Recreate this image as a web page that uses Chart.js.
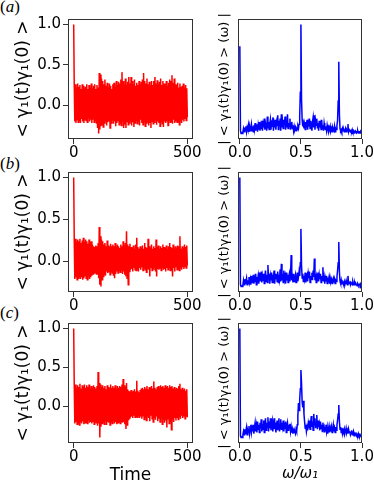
<!DOCTYPE html>
<html><head><meta charset="utf-8">
<script src="https://cdn.jsdelivr.net/npm/chart.js@4.4.0/dist/chart.umd.min.js"></script>
<style>
html,body{margin:0;padding:0;background:#fff;overflow:hidden;width:374px;height:483px;}
#wrap{position:relative;width:374px;height:483px;overflow:hidden;}
canvas{position:absolute;}
.pl{position:absolute;left:0;font-family:"Liberation Serif",serif;font-size:17px;line-height:17px;color:#000;white-space:nowrap;}
.pl i{font-style:italic;}
</style></head><body><div id="wrap">
<div class="pl" style="top:-2px">(<i>a</i>)</div>
<div class="pl" style="top:155px">(<i>b</i>)</div>
<div class="pl" style="top:304px">(<i>c</i>)</div>
</div>
<script>
// ---- tick values / labels ----
const timeTicks = [0, 500];
const timeTickLabels = ['0', '500'];
const corrTicks = [0, 0.5, 1.0];
const corrTickLabels = ['0.0', '0.5', '1.0'];
const freqTicks = [0, 0.5, 1.0];
const freqTickLabels = ['0.0', '0.5', '1.0'];
const timeTitle = 'Time';
const freqTitle = 'ω/ω₁';
const corrYLabel = '< γ₁(t)γ₁(0) >';
const specYLabel = '| < γ₁(t)γ₁(0) > (ω) |';
const TIME_STEP = 2.5;    // time units between samples
const FREQ_STEP = 0.005;  // ω/ω1 between samples

// ---- series: autocorrelation (red) ----
const corrA = [1.0,
0.24,-0.2,0.26,-0.22,0.22,-0.18,0.27,-0.21,0.23,-0.19,
0.25,-0.22,0.2,-0.17,0.26,-0.2,0.24,-0.22,0.21,-0.18,
0.23,-0.19,0.26,-0.21,0.2,-0.16,0.25,-0.2,0.22,-0.18,
0.27,-0.22,0.21,-0.17,0.24,-0.21,0.26,-0.19,0.2,-0.22,
0.25,-0.28,0.22,-0.35,0.4,-0.3,0.38,-0.26,0.33,-0.24,
0.3,-0.27,0.26,-0.22,0.32,-0.2,0.24,-0.25,0.28,-0.21,
0.22,-0.2,0.27,-0.28,0.24,-0.22,0.2,-0.18,0.26,-0.23,
0.28,-0.2,0.23,-0.26,0.3,-0.22,0.25,-0.19,0.29,-0.24,
0.27,-0.22,0.32,-0.25,0.41,-0.2,0.3,-0.28,0.26,-0.24,
0.33,-0.28,0.25,-0.2,0.29,-0.24,0.35,-0.22,0.27,-0.2,
0.35,-0.25,0.3,-0.21,0.26,-0.27,0.32,-0.22,0.24,-0.19,
0.28,-0.23,0.25,-0.2,0.3,-0.25,0.26,-0.18,0.29,-0.22,
0.32,-0.24,0.4,-0.2,0.3,-0.26,0.27,-0.22,0.33,-0.21,
0.26,-0.25,0.29,-0.22,0.24,-0.28,0.3,-0.2,0.25,-0.23,
0.3,-0.21,0.35,-0.19,0.27,-0.24,0.31,-0.2,0.26,-0.22,
0.29,-0.26,0.33,-0.2,0.25,-0.23,0.3,-0.27,0.27,-0.2,
0.26,-0.22,0.3,-0.2,0.24,-0.25,0.28,-0.19,0.32,-0.21,
0.3,-0.2,0.37,-0.23,0.28,-0.18,0.33,-0.22,0.26,-0.2,
0.25,-0.21,0.28,-0.2,0.22,-0.24,0.27,-0.19,0.23,-0.22,
0.24,-0.18,0.27,-0.2,0.22,-0.16,0.25,-0.19,0.21,-0.15];

const corrB = [1.0,
0.25,-0.21,0.27,-0.19,0.23,-0.22,0.26,-0.2,0.24,-0.18,
0.27,-0.21,0.22,-0.19,0.25,-0.22,0.28,-0.2,0.23,-0.17,
0.26,-0.2,0.24,-0.22,0.21,-0.18,0.26,-0.21,0.23,-0.19,
0.24,-0.17,0.2,-0.15,0.18,-0.14,0.17,-0.13,0.19,-0.15,
0.18,-0.16,0.22,-0.2,0.41,-0.28,0.3,-0.3,0.26,-0.22,
0.24,-0.18,0.2,-0.15,0.22,-0.17,0.18,-0.12,0.25,-0.14,
0.19,-0.13,0.17,-0.16,0.21,-0.12,0.18,-0.14,0.2,-0.17,
0.18,-0.2,0.22,-0.15,0.17,-0.12,0.2,-0.14,0.18,-0.11,
0.16,-0.13,0.2,-0.1,0.18,-0.15,0.24,-0.12,0.19,-0.16,
0.22,-0.18,0.36,-0.2,0.2,-0.28,0.18,-0.12,0.21,-0.1,
0.17,-0.09,0.16,-0.12,0.19,-0.08,0.15,-0.1,0.2,-0.11,
0.28,-0.09,0.17,-0.12,0.15,-0.08,0.18,-0.1,0.16,-0.07,
0.19,-0.11,0.15,-0.08,0.22,-0.1,0.17,-0.13,0.16,-0.09,
0.27,-0.1,0.18,-0.18,0.16,-0.08,0.2,-0.11,0.15,-0.09,
0.18,-0.07,0.16,-0.12,0.26,-0.18,0.17,-0.09,0.19,-0.1,
0.15,-0.08,0.18,-0.11,0.16,-0.07,0.2,-0.1,0.17,-0.09,
0.16,-0.12,0.19,-0.08,0.15,-0.1,0.18,-0.07,0.22,-0.11,
0.17,-0.09,0.16,-0.18,0.2,-0.08,0.15,-0.12,0.18,-0.07,
0.16,-0.1,0.19,-0.09,0.18,-0.11,0.3,-0.08,0.15,-0.1,
0.18,-0.07,0.16,-0.09,0.2,-0.06,0.17,-0.08,0.19,-0.05];

const corrC = [1.0,
0.26,-0.22,0.28,-0.2,0.24,-0.23,0.27,-0.21,0.25,-0.24,
0.29,-0.2,0.23,-0.22,0.27,-0.19,0.25,-0.23,0.28,-0.21,
0.24,-0.2,0.27,-0.22,0.25,-0.18,0.28,-0.21,0.23,-0.2,
0.26,-0.22,0.24,-0.19,0.27,-0.23,0.25,-0.2,0.23,-0.21,
0.26,-0.25,0.44,-0.22,0.3,-0.4,0.28,-0.26,0.25,-0.22,
0.27,-0.2,0.24,-0.23,0.26,-0.19,0.22,-0.24,0.27,-0.2,
0.25,-0.21,0.23,-0.24,0.28,-0.2,0.24,-0.22,0.26,-0.19,
0.24,-0.22,0.27,-0.2,0.23,-0.23,0.26,-0.21,0.24,-0.2,
0.26,-0.22,0.25,-0.19,0.28,-0.21,0.35,-0.2,0.27,-0.23,
0.25,-0.29,0.3,-0.24,0.22,-0.17,0.2,-0.15,0.19,-0.14,
0.21,-0.13,0.18,-0.15,0.2,-0.12,0.22,-0.14,0.19,-0.13,
0.33,-0.14,0.2,-0.12,0.18,-0.15,0.21,-0.13,0.23,-0.16,
0.24,-0.12,0.22,-0.17,0.25,-0.14,0.23,-0.18,0.26,-0.13,
0.22,-0.15,0.25,-0.19,0.24,-0.12,0.26,-0.16,0.23,-0.2,
0.32,-0.14,0.24,-0.17,0.22,-0.13,0.25,-0.19,0.26,-0.16,
0.24,-0.2,0.27,-0.15,0.25,-0.23,0.26,-0.17,0.24,-0.21,
0.27,-0.18,0.25,-0.27,0.26,-0.16,0.24,-0.22,0.27,-0.19,
0.25,-0.3,0.26,-0.17,0.23,-0.2,0.25,-0.15,0.22,-0.18,
0.24,-0.14,0.23,-0.17,0.26,-0.13,0.29,-0.16,0.22,-0.12,
0.24,-0.15,0.21,-0.13,0.23,-0.16,0.2,-0.12,0.22,-0.14];

// ---- series: spectra (blue) ----
const specA = [0.8,
0.03,0.005,0.01,0.004,0.02,0.05,0.02,0.06,0.03,0.07,
0.02,0.06,0.04,0.08,0.02,0.07,0.03,0.05,0.09,0.03,
0.07,0.02,0.08,0.04,0.1,0.03,0.06,0.09,0.02,0.08,
0.04,0.11,0.03,0.08,0.05,0.12,0.03,0.09,0.06,0.14,
0.04,0.1,0.07,0.03,0.16,0.05,0.11,0.04,0.09,0.13,
0.04,0.12,0.07,0.15,0.03,0.1,0.06,0.13,0.04,0.11,
0.08,0.17,0.04,0.12,0.07,0.14,0.03,0.18,0.06,0.11,
0.05,0.13,0.08,0.16,0.04,0.12,0.06,0.18,0.05,0.1,
0.07,0.14,0.04,0.09,0.11,0.05,0.08,0.03,0.07,0.04,
0.06,0.03,0.05,0.04,0.07,0.05,0.09,0.16,0.38,1.0,
0.32,0.13,0.07,0.1,0.05,0.09,0.04,0.11,0.06,0.13,
0.04,0.1,0.07,0.14,0.05,0.12,0.08,0.03,0.11,0.15,
0.06,0.17,0.04,0.12,0.08,0.14,0.05,0.1,0.03,0.12,
0.06,0.09,0.04,0.13,0.05,0.08,0.03,0.1,0.06,0.04,
0.07,0.03,0.08,0.05,0.02,0.06,0.04,0.07,0.03,0.05,
0.02,0.06,0.04,0.03,0.07,0.02,0.05,0.04,0.08,0.12,
0.3,0.66,0.18,0.05,0.03,0.04,0.02,0.05,0.03,0.04,
0.02,0.03,0.05,0.02,0.04,0.03,0.09,0.02,0.04,0.03,
0.02,0.03,0.02,0.04,0.02,0.03,0.01,0.02,0.03,0.02,
0.01,0.02,0.03,0.01,0.02,0.02,0.01,0.02,0.01,0.02];

const specB = [1.0,
0.02,0.004,0.008,0.003,0.02,0.06,0.02,0.07,0.03,0.05,
0.08,0.02,0.06,0.03,0.09,0.04,0.07,0.02,0.1,0.04,
0.06,0.11,0.03,0.08,0.05,0.12,0.02,0.09,0.06,0.1,
0.03,0.13,0.05,0.08,0.14,0.04,0.1,0.06,0.12,0.03,
0.09,0.15,0.05,0.11,0.04,0.2,0.07,0.12,0.03,0.1,
0.06,0.13,0.04,0.11,0.08,0.15,0.03,0.1,0.07,0.12,
0.05,0.14,0.04,0.11,0.07,0.16,0.05,0.21,0.06,0.12,
0.04,0.15,0.07,0.1,0.03,0.13,0.06,0.11,0.04,0.09,
0.12,0.05,0.1,0.29,0.06,0.09,0.04,0.12,0.05,0.08,
0.11,0.04,0.07,0.13,0.05,0.09,0.14,0.1,0.22,0.53,
0.2,0.08,0.12,0.05,0.1,0.07,0.13,0.04,0.09,0.11,
0.05,0.12,0.08,0.14,0.04,0.1,0.07,0.13,0.06,0.15,
0.09,0.26,0.06,0.12,0.04,0.1,0.08,0.13,0.05,0.11,
0.07,0.12,0.04,0.1,0.06,0.18,0.05,0.09,0.03,0.08,
0.05,0.1,0.03,0.07,0.06,0.09,0.03,0.08,0.05,0.07,
0.03,0.06,0.08,0.04,0.07,0.03,0.06,0.05,0.09,0.15,
0.22,0.41,0.14,0.05,0.03,0.06,0.02,0.05,0.04,0.03,
0.05,0.02,0.04,0.06,0.03,0.02,0.1,0.04,0.03,0.05,
0.02,0.04,0.03,0.02,0.05,0.03,0.02,0.04,0.02,0.03,
0.02,0.01,0.03,0.02,0.01,0.02,0.03,0.01,0.02,0.01];

const specC = [1.0,
0.02,0.004,0.01,0.005,0.03,0.06,0.03,0.08,0.04,0.07,
0.1,0.03,0.07,0.05,0.11,0.04,0.08,0.12,0.05,0.09,
0.06,0.12,0.04,0.1,0.14,0.06,0.11,0.05,0.15,0.08,
0.12,0.05,0.14,0.09,0.17,0.06,0.13,0.08,0.16,0.05,
0.12,0.18,0.07,0.14,0.1,0.19,0.06,0.15,0.09,0.18,
0.07,0.13,0.16,0.06,0.12,0.18,0.08,0.14,0.05,0.11,
0.16,0.07,0.13,0.18,0.06,0.12,0.17,0.08,0.14,0.1,
0.16,0.06,0.12,0.09,0.15,0.05,0.11,0.14,0.07,0.12,
0.09,0.13,0.06,0.1,0.05,0.08,0.04,0.07,0.05,0.06,
0.04,0.08,0.06,0.12,0.2,0.32,0.25,0.35,0.45,0.62,
0.5,0.33,0.28,0.34,0.22,0.15,0.09,0.12,0.06,0.1,
0.07,0.13,0.09,0.16,0.08,0.14,0.2,0.1,0.15,0.07,
0.22,0.12,0.18,0.09,0.14,0.21,0.08,0.16,0.1,0.13,
0.07,0.15,0.09,0.12,0.06,0.14,0.08,0.1,0.05,0.09,
0.12,0.06,0.1,0.04,0.08,0.11,0.05,0.09,0.06,0.1,
0.05,0.08,0.12,0.06,0.09,0.05,0.1,0.07,0.12,0.16,
0.22,0.3,0.15,0.08,0.1,0.05,0.09,0.04,0.07,0.05,
0.08,0.04,0.06,0.09,0.05,0.07,0.04,0.08,0.05,0.06,
0.03,0.05,0.07,0.03,0.04,0.06,0.02,0.04,0.03,0.05,
0.02,0.03,0.02,0.04,0.02,0.01,0.03,0.02,0.01,0.02];

// ---- layout (pixels) ----
const rows = [{top:19,bottom:139},{top:172,bottom:292},{top:323,bottom:443}];
const leftCol  = {cx:0,   cw:215, boxLeft:68,  boxRight:193};
const rightCol = {cx:200, cw:185, boxLeft:238, boxRight:362};
const FONT = '"DejaVu Sans", sans-serif';
const AXIS_COLOR = '#333';

const framePlugin = {
  id: 'frame',
  afterDatasetsDraw(chart) {
    const {ctx, chartArea: a} = chart;
    ctx.save();
    ctx.strokeStyle = AXIS_COLOR;
    ctx.lineWidth = 1;
    ctx.strokeRect(a.left + 0.5, a.top + 0.5, a.right - a.left - 1, a.bottom - a.top - 1);
    ctx.restore();
  }
};
const sideLabelPlugin = {
  id: 'sideLabel',
  afterDraw(chart, args, opts) {
    if (!opts || !opts.text) return;
    const {ctx, chartArea: a} = chart;
    ctx.save();
    ctx.translate(opts.x, (a.top + a.bottom) / 2);
    ctx.rotate(-Math.PI / 2);
    ctx.font = opts.font;
    ctx.fillStyle = '#000';
    ctx.textAlign = 'center';
    ctx.textBaseline = 'middle';
    ctx.fillText(opts.text, 0, 0);
    ctx.restore();
  }
};

function range(values) {
  const lo = Math.min(...values), hi = Math.max(...values);
  const pad = 0.05 * (hi - lo);
  return [lo - pad, hi + pad];
}

function panel(kind, values, rowIdx) {
  const col = kind === 'corr' ? leftCol : rightCol;
  const row = rows[rowIdx];
  const last = rowIdx === rows.length - 1;
  const cy = row.top - 19;
  const cBottom = last ? 489 : row.bottom + 24;
  const ch = cBottom - cy;
  const wrap = document.getElementById('wrap');
  const c = document.createElement('canvas');
  c.width = col.cw; c.height = ch;
  c.style.left = col.cx + 'px'; c.style.top = cy + 'px';
  c.style.width = col.cw + 'px'; c.style.height = ch + 'px';
  wrap.appendChild(c);

  const step = kind === 'corr' ? TIME_STEP : FREQ_STEP;
  const pts = values.map((v, i) => ({x: i * step, y: v}));
  const [ylo, yhi] = range(values);
  const xt = kind === 'corr' ? timeTicks : freqTicks;
  const xl = kind === 'corr' ? timeTickLabels : freqTickLabels;

  const xTitle = last ? (kind === 'corr'
      ? {display:true, text: timeTitle, color:'#000', font:{family:FONT, size:17}, padding:{top:0, bottom:3}}
      : {display:true, text: freqTitle, color:'#000', font:{family:FONT, size:15, style:'italic'}, padding:{top:0, bottom:6}})
    : {display:false};

  const yScale = kind === 'corr' ? {
    type:'linear', min: ylo, max: yhi,
    afterFit(s) { s.width = col.boxLeft - col.cx; },
    afterBuildTicks(s) { s.ticks = corrTicks.map(v => ({value: v})); },
    ticks: {callback: (v, i) => corrTickLabels[i], color:'#000', font:{family:FONT, size:15}, padding:2, autoSkip:false},
    grid: {drawOnChartArea:false, drawTicks:true, tickLength:5, color:AXIS_COLOR},
    border: {display:false},
    title: {display:true, text: corrYLabel, color:'#000', font:{family:FONT, size:17}, padding:{top:13, bottom:0}}
  } : {
    type:'linear', min: ylo, max: yhi,
    afterFit(s) { s.width = col.boxLeft - col.cx; },
    ticks: {display:false},
    grid: {display:false},
    border: {display:false},
    title: {display:false}
  };

  new Chart(c, {
    type: 'line',
    data: {datasets: [{
      data: pts,
      borderColor: kind === 'corr' ? '#ff0000' : '#0000ff',
      borderWidth: 1.5,
      pointRadius: 0,
      tension: 0,
      fill: false
    }]},
    options: {
      responsive: false, animation: false, devicePixelRatio: 1, events: [],
      layout: {padding: {top: row.top - cy, right: col.cx + col.cw - col.boxRight, left: 0, bottom: 0}},
      plugins: {
        legend: {display:false}, tooltip: {enabled:false},
        sideLabel: kind === 'spec' ? {text: specYLabel, x: 225 - col.cx, font: '13px ' + FONT} : {text: ''}
      },
      scales: {
        x: {
          type:'linear',
          min: kind === 'corr' ? -25 : -0.015,
          max: kind === 'corr' ? 525 : 1.0,
          afterFit(s) { s.height = cBottom - row.bottom; },
          afterBuildTicks(s) { s.ticks = xt.map(v => ({value: v})); },
          ticks: {callback: (v, i) => xl[i], color:'#000', font:{family:FONT, size:15}, padding:0, maxRotation:0, autoSkip:false},
          grid: {drawOnChartArea:false, drawTicks:true, tickLength:5, color:AXIS_COLOR},
          border: {display:false},
          title: xTitle
        },
        y: yScale
      }
    },
    plugins: [framePlugin, sideLabelPlugin]
  });
}

panel('corr', corrA, 0); panel('spec', specA, 0);
panel('corr', corrB, 1); panel('spec', specB, 1);
panel('corr', corrC, 2); panel('spec', specC, 2);
</script>
</body></html>
